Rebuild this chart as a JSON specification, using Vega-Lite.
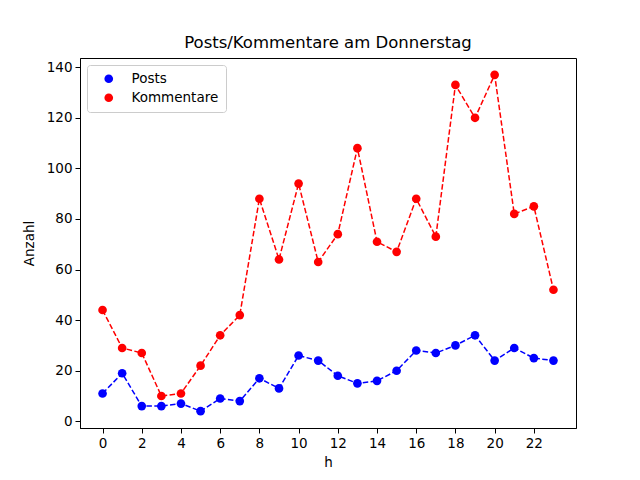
{
  "$schema": "https://vega.github.io/schema/vega-lite/v6.json",
  "autosize": {"type": "none"},
  "padding": {"left": 80, "top": 58, "right": 64, "bottom": 52},
  "width": 496,
  "height": 370,
  "background": "white",
  "title": {
    "text": "Posts/Kommentare am Donnerstag",
    "font": "DejaVu Sans",
    "fontSize": 16.5,
    "fontWeight": "normal",
    "color": "black",
    "offset": 7
  },
  "data": {
    "values": [
      {"h": 0, "Anzahl": 11, "series": "Posts"},
      {"h": 1, "Anzahl": 19, "series": "Posts"},
      {"h": 2, "Anzahl": 6, "series": "Posts"},
      {"h": 3, "Anzahl": 6, "series": "Posts"},
      {"h": 4, "Anzahl": 7, "series": "Posts"},
      {"h": 5, "Anzahl": 4, "series": "Posts"},
      {"h": 6, "Anzahl": 9, "series": "Posts"},
      {"h": 7, "Anzahl": 8, "series": "Posts"},
      {"h": 8, "Anzahl": 17, "series": "Posts"},
      {"h": 9, "Anzahl": 13, "series": "Posts"},
      {"h": 10, "Anzahl": 26, "series": "Posts"},
      {"h": 11, "Anzahl": 24, "series": "Posts"},
      {"h": 12, "Anzahl": 18, "series": "Posts"},
      {"h": 13, "Anzahl": 15, "series": "Posts"},
      {"h": 14, "Anzahl": 16, "series": "Posts"},
      {"h": 15, "Anzahl": 20, "series": "Posts"},
      {"h": 16, "Anzahl": 28, "series": "Posts"},
      {"h": 17, "Anzahl": 27, "series": "Posts"},
      {"h": 18, "Anzahl": 30, "series": "Posts"},
      {"h": 19, "Anzahl": 34, "series": "Posts"},
      {"h": 20, "Anzahl": 24, "series": "Posts"},
      {"h": 21, "Anzahl": 29, "series": "Posts"},
      {"h": 22, "Anzahl": 25, "series": "Posts"},
      {"h": 23, "Anzahl": 24, "series": "Posts"},
      {"h": 0, "Anzahl": 44, "series": "Kommentare"},
      {"h": 1, "Anzahl": 29, "series": "Kommentare"},
      {"h": 2, "Anzahl": 27, "series": "Kommentare"},
      {"h": 3, "Anzahl": 10, "series": "Kommentare"},
      {"h": 4, "Anzahl": 11, "series": "Kommentare"},
      {"h": 5, "Anzahl": 22, "series": "Kommentare"},
      {"h": 6, "Anzahl": 34, "series": "Kommentare"},
      {"h": 7, "Anzahl": 42, "series": "Kommentare"},
      {"h": 8, "Anzahl": 88, "series": "Kommentare"},
      {"h": 9, "Anzahl": 64, "series": "Kommentare"},
      {"h": 10, "Anzahl": 94, "series": "Kommentare"},
      {"h": 11, "Anzahl": 63, "series": "Kommentare"},
      {"h": 12, "Anzahl": 74, "series": "Kommentare"},
      {"h": 13, "Anzahl": 108, "series": "Kommentare"},
      {"h": 14, "Anzahl": 71, "series": "Kommentare"},
      {"h": 15, "Anzahl": 67, "series": "Kommentare"},
      {"h": 16, "Anzahl": 88, "series": "Kommentare"},
      {"h": 17, "Anzahl": 73, "series": "Kommentare"},
      {"h": 18, "Anzahl": 133, "series": "Kommentare"},
      {"h": 19, "Anzahl": 120, "series": "Kommentare"},
      {"h": 20, "Anzahl": 137, "series": "Kommentare"},
      {"h": 21, "Anzahl": 82, "series": "Kommentare"},
      {"h": 22, "Anzahl": 85, "series": "Kommentare"},
      {"h": 23, "Anzahl": 52, "series": "Kommentare"}
    ]
  },
  "encoding": {
    "x": {
      "field": "h",
      "type": "quantitative",
      "scale": {"domain": [-1.15, 24.15], "nice": false, "zero": false},
      "axis": {
        "title": "h",
        "values": [0, 2, 4, 6, 8, 10, 12, 14, 16, 18, 20, 22],
        "grid": false,
        "labelFlush": false,
        "titlePadding": 6
      }
    },
    "y": {
      "field": "Anzahl",
      "type": "quantitative",
      "scale": {"domain": [-2.65, 143.65], "nice": false, "zero": false},
      "axis": {
        "title": "Anzahl",
        "values": [0, 20, 40, 60, 80, 100, 120, 140],
        "grid": false,
        "labelFlush": false,
        "titlePadding": 10
      }
    },
    "color": {
      "field": "series",
      "type": "nominal",
      "scale": {"domain": ["Posts", "Kommentare"], "range": ["#0000ff", "#ff0000"]},
      "legend": {
        "title": null,
        "orient": "top-left",
        "offset": 7,
        "padding": 7,
        "fillColor": "white",
        "strokeColor": "#cccccc",
        "cornerRadius": 3,
        "symbolType": "circle",
        "symbolSize": 75,
        "symbolOpacity": 1,
        "symbolFillColor": null,
        "symbolStrokeWidth": 0,
        "labelFontSize": 13.5,
        "labelFont": "DejaVu Sans",
        "labelColor": "black",
        "rowPadding": 4,
        "symbolOffset": 8,
        "labelOffset": 16
      }
    }
  },
  "layer": [
    {
      "mark": {"type": "line", "strokeDash": [5.5, 2.4], "strokeWidth": 1.5}
    },
    {
      "mark": {"type": "point", "shape": "circle", "filled": true, "opacity": 1, "size": 75}
    }
  ],
  "config": {
    "view": {"stroke": "black", "strokeWidth": 1},
    "axis": {
      "domainColor": "black",
      "tickColor": "black",
      "tickSize": 5,
      "labelFont": "DejaVu Sans",
      "labelFontSize": 13.5,
      "labelColor": "black",
      "titleFont": "DejaVu Sans",
      "titleFontSize": 13.5,
      "titleFontWeight": "normal",
      "titleColor": "black",
      "labelPadding": 3
    }
  }
}
